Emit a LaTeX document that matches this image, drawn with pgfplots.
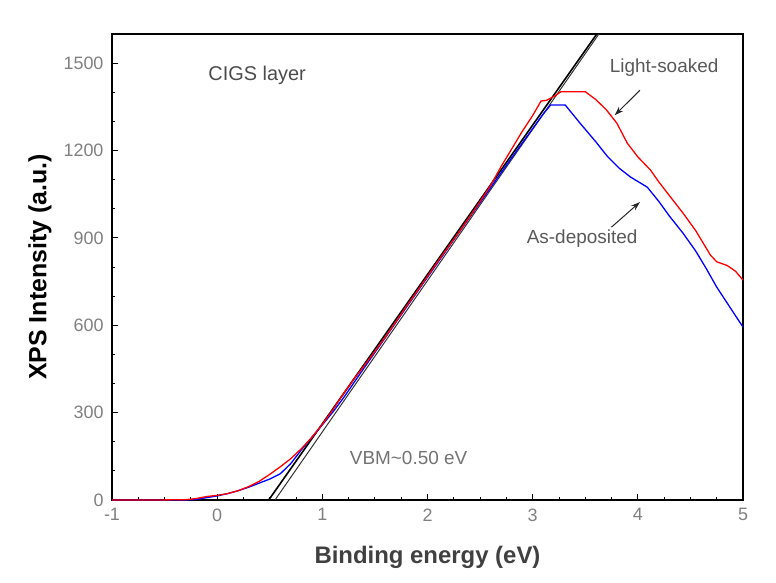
\documentclass[border=0pt]{standalone}
\usepackage{pgfplots}
\pgfplotsset{compat=1.18}
\usepackage{fontspec}
\setmainfont{Liberation Sans}
\usetikzlibrary{arrows.meta}
\begin{document}
\begin{tikzpicture}
\begin{axis}[
  scale only axis, width=631bp, height=466bp,
  xmin=-1, xmax=5, ymin=0, ymax=1600,
  xtick={-1,0,1,2,3,4,5}, ytick={0,300,600,900,1200,1500},
  minor x tick num=3, minor y tick num=2,
  tick pos=left, tick align=inside,
  major tick length=6bp, minor tick length=3.5bp,
  axis line style={black, line width=1.3bp},
  tick style={black, line width=0.9bp},
  ticklabel style={font=\fontsize{18}{20}\selectfont, text=black!50},
  xticklabel style={yshift=-5bp},
  yticklabel style={xshift=-5bp},
  /pgf/number format/assume math mode=true,
  /pgf/number format/1000 sep={},
  xlabel={Binding energy (eV)},
  ylabel={XPS Intensity (a.u.)},
  xlabel style={font=\bfseries\fontsize{24}{28}\selectfont, text=black!75, at={(rel axis cs:0.5,0)}, anchor=center, yshift=-57bp},
  ylabel style={font=\bfseries\fontsize{25}{28}\selectfont, text=black, at={(rel axis cs:0,0.5)}, anchor=center, yshift=72bp},
  clip=true,
]
\coordinate (sw) at (rel axis cs:0,0);
% linear fits
\addplot[black, line width=1.6bp] coordinates {(0.49,0) (3.61,1600)};
\addplot[black!80, line width=1.0bp] coordinates {(0.55,0) (3.63,1600)};
% As-deposited
\addplot[blue, line width=1.3bp] coordinates {
(-1,0) (-0.3,0) (-0.2,2) (-0.1,8) (0,14) (0.1,22) (0.2,32) (0.3,44) (0.4,58) (0.5,72) (0.6,90) (0.7,125) (0.8,172) (0.9,215) (1.0,258) (1.1,302) (1.2,350) (1.4,455) (1.6,558) (1.8,662) (2.0,765) (2.2,868) (2.4,970) (2.6,1072) (2.8,1175) (3.0,1275) (3.1,1325) (3.17,1356) (3.31,1356) (3.45,1294) (3.6,1230) (3.71,1180) (3.82,1140) (3.93,1109) (4.09,1074) (4.2,1025) (4.3,975) (4.43,916) (4.55,855) (4.65,795) (4.75,731) (4.85,676) (4.93,632) (5.0,594)
};
% Light-soaked
\addplot[red, line width=1.3bp] coordinates {
(-1,0) (-0.6,0) (-0.3,1) (-0.2,5) (-0.1,12) (0,16) (0.1,22) (0.2,32) (0.3,46) (0.4,64) (0.5,88) (0.6,114) (0.7,142) (0.8,176) (0.9,215) (1.0,260) (1.1,310) (1.2,365) (1.3,415) (1.4,462) (1.5,510) (1.6,560) (1.7,612) (1.8,665) (1.9,716) (2.0,768) (2.1,820) (2.2,870) (2.3,920) (2.4,972) (2.5,1025) (2.6,1080) (2.7,1145) (2.8,1205) (2.9,1265) (3.0,1320) (3.08,1370) (3.13,1372) (3.2,1385) (3.27,1402) (3.5,1402) (3.6,1375) (3.7,1340) (3.8,1294) (3.9,1225) (4.0,1178) (4.12,1133) (4.2,1092) (4.3,1045) (4.43,985) (4.55,925) (4.69,841) (4.75,818) (4.85,805) (4.93,785) (5.0,755)
};
\node[font=\fontsize{20}{22}\selectfont, text=black!70] at (axis cs:0.38,1459) {CIGS layer};
\node[font=\fontsize{19}{22}\selectfont, text=black!65] at (axis cs:4.25,1483) {Light-soaked};
\node[font=\fontsize{19}{22}\selectfont, text=black!65] at (axis cs:3.47,899) {As-deposited};
\node[font=\fontsize{19}{22}\selectfont, text=black!55] at (axis cs:1.82,144) {VBM\textasciitilde 0.50 eV};
\draw[-{Stealth[length=9bp,width=6bp]}, line width=1bp, black!85] (axis cs:4.02,1407) -- (axis cs:3.78,1321);
\draw[-{Stealth[length=9bp,width=6bp]}, line width=1bp, black!85] (axis cs:3.75,937) -- (axis cs:4.02,1023);
\end{axis}
\pgfresetboundingbox
\path (sw) ++(-112bp,-83bp) rectangle ++(776bp,583bp);
\end{tikzpicture}
\end{document}
